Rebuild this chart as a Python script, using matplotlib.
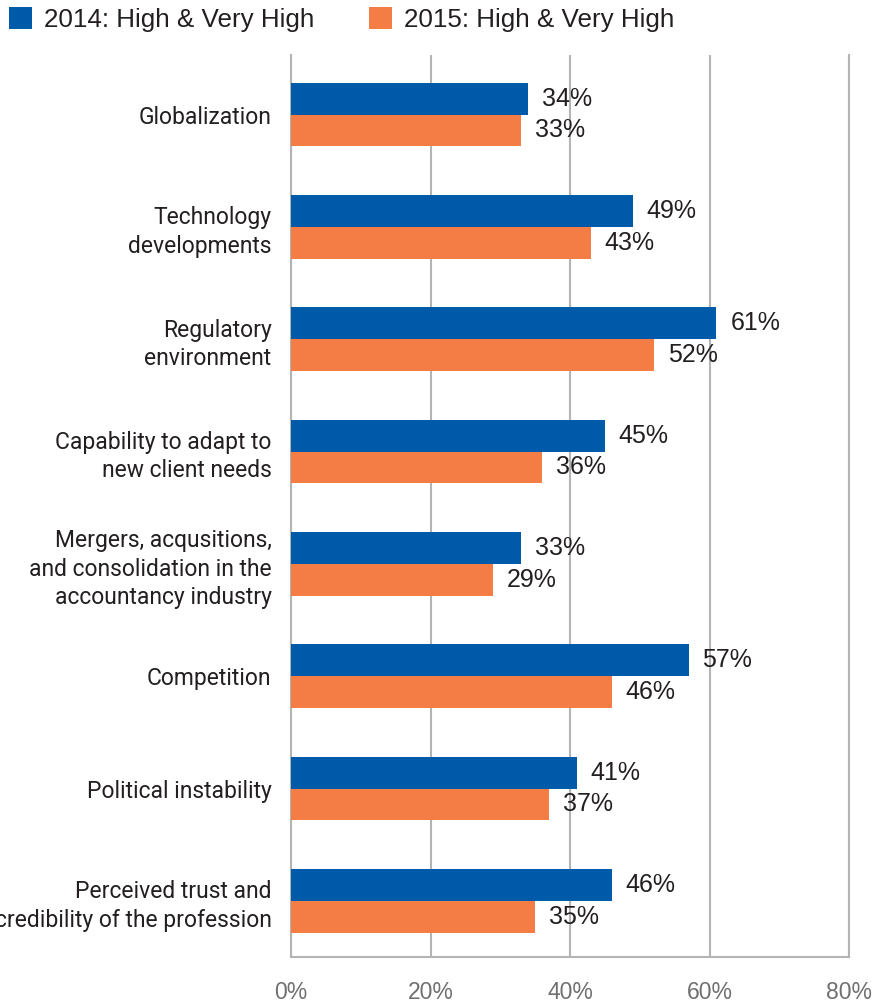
import matplotlib
matplotlib.use("Agg")
import matplotlib.pyplot as plt
from matplotlib.patches import Patch
import numpy as np

categories = [
    "Globalization",
    "Technology\ndevelopments",
    "Regulatory\nenvironment",
    "Capability to adapt to\nnew client needs",
    "Mergers, acqusitions,\nand consolidation in the\naccountancy industry",
    "Competition",
    "Political instability",
    "Perceived trust and\ncredibility of the profession",
]
values_2014 = [34, 49, 61, 45, 33, 57, 41, 46]
values_2015 = [33, 43, 52, 36, 29, 46, 37, 35]
series_names = ["2014: High & Very High", "2015: High & Very High"]
x_ticks = [0, 20, 40, 60, 80]

BLUE = "#005AAA"
ORANGE = "#F47D45"
GRID = "#b4b4b6"
TEXT = "#231f20"

fig = plt.figure(figsize=(8.93, 10.02), dpi=100)
ax = fig.add_axes([291 / 893, 1 - 957 / 1002, (849 - 291) / 893, (957 - 55) / 1002])

y = np.arange(len(categories))
h = 0.284
b1 = ax.barh(y - h / 2, values_2014, height=h, color=BLUE, zorder=3)
b2 = ax.barh(y + h / 2, values_2015, height=h, color=ORANGE, zorder=3)

# value labels to the right of each bar
for bars, vals in ((b1, values_2014), (b2, values_2015)):
    for bar, v in zip(bars, vals):
        ax.annotate(f"{v}%", (v, bar.get_y() + bar.get_height() / 2),
                    xytext=(10, 0), textcoords="offset points",
                    ha="left", va="center", fontsize=18, color=TEXT,
                    family="Liberation Sans", zorder=4)

ax.set_xlim(0, 80)
ax.set_ylim(len(categories) - 0.5, -0.53)
ax.set_xticks(x_ticks)
ax.set_xticklabels([f"{t}%" for t in x_ticks], fontsize=16.5, color="#707070",
                   family="Liberation Sans")
ax.set_yticks(y)
ax.set_yticklabels(categories, fontsize=16.5, color=TEXT, linespacing=1.3,
                   family=["Roboto", "DejaVu Sans"])
ax.tick_params(axis="x", length=0, pad=17)
ax.tick_params(axis="y", length=0, pad=14)

ax.xaxis.grid(True, color=GRID, linewidth=1.5, zorder=0)
ax.set_axisbelow(True)
for side in ("left", "bottom", "right"):
    ax.spines[side].set_color(GRID)
    ax.spines[side].set_linewidth(1.5)
ax.spines["top"].set_visible(False)

handles = [Patch(facecolor=BLUE), Patch(facecolor=ORANGE)]
fig.legend(handles, series_names, loc="upper left", bbox_to_anchor=(9 / 893, 1 - 7 / 1002),
           ncol=2, frameon=False, borderpad=0, borderaxespad=0,
           handlelength=0.9, handleheight=0.9, handletextpad=0.45, columnspacing=2.1,
           prop={"family": "Liberation Sans", "size": 18.7}, labelcolor=TEXT)

plt.savefig("out.png", dpi=100)
